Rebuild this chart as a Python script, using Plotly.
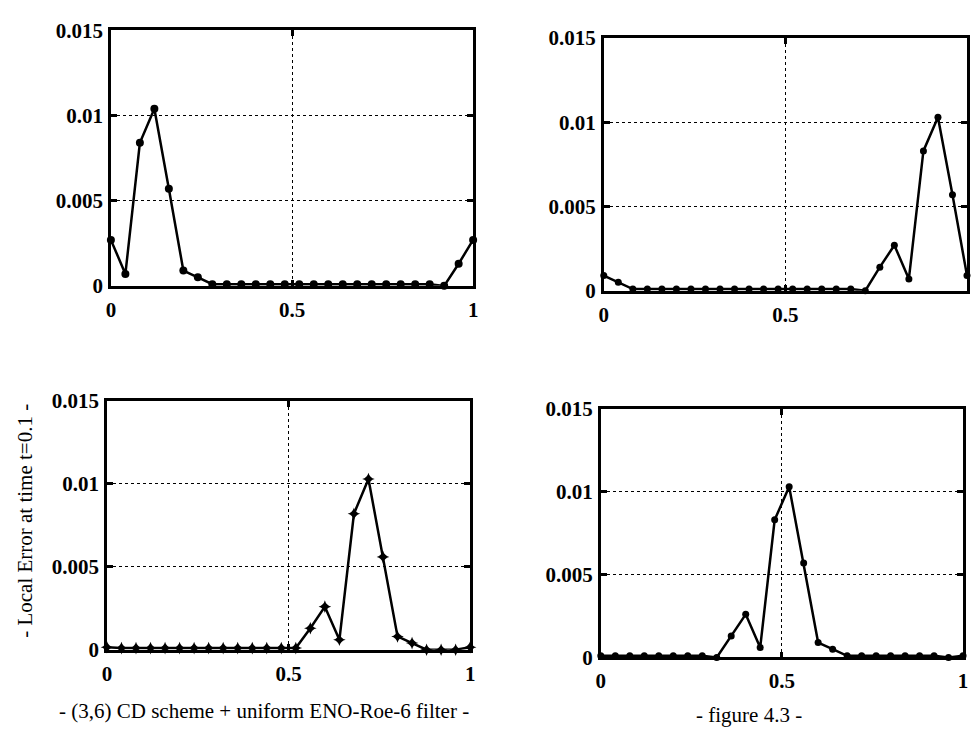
import plotly.graph_objects as go

# ---------------- data ----------------
x_grid = [round(0.04 * i, 2) for i in range(26)]

# top-left panel (peak near x=0.12)
err_tl = [0.0027, 0.0007, 0.0084, 0.0104, 0.0057, 0.0009, 0.0005, 0.0001,
          0.0001, 0.0001, 0.0001, 0.0001, 0.0001, 0.0001, 0.0001, 0.0001,
          0.0001, 0.0001, 0.0001, 0.0001, 0.0001, 0.0001, 0.0001, 0.0000,
          0.0013, 0.0027]
# top-right panel (peak near x=0.92)
err_tr = [0.0009, 0.0005, 0.0001, 0.0001, 0.0001, 0.0001, 0.0001, 0.0001,
          0.0001, 0.0001, 0.0001, 0.0001, 0.0001, 0.0001, 0.0001, 0.0001,
          0.0001, 0.0001, 0.0000, 0.0014, 0.0027, 0.0007, 0.0083, 0.0103,
          0.0057, 0.0009]
# bottom-left panel (peak near x=0.72)
err_bl = [0.00015, 0.0001, 0.0001, 0.0001, 0.0001, 0.0001, 0.0001, 0.0001,
          0.0001, 0.0001, 0.0001, 0.0001, 0.0001, 0.0001, 0.0013, 0.0026,
          0.0006, 0.0082, 0.0103, 0.0056, 0.0008, 0.0004, 0.0000, 0.0000,
          0.0000, 0.00015]
# bottom-right panel (peak near x=0.52)
err_br = [0.0001, 0.0001, 0.0001, 0.0001, 0.0001, 0.0001, 0.0001, 0.0001,
          0.0000, 0.0013, 0.0026, 0.0006, 0.0083, 0.0103, 0.0057, 0.0009,
          0.0005, 0.0001, 0.0001, 0.0001, 0.0001, 0.0001, 0.0001, 0.0001,
          0.0000, 0.0001]

x_tickvals = [0, 0.5, 1]
x_ticktext = ["0", "0.5", "1"]
y_tickvals = [0, 0.005, 0.01, 0.015]
y_ticktext = ["0", "0.005", "0.01", "0.015"]

y_title = "- Local Error at time t=0.1 -"
caption_left = "- (3,6) CD scheme + uniform ENO-Roe-6 filter -"
caption_right = "- figure 4.3 -"

# ---------------- layout ----------------
W, H = 972, 744
FONT = "Liberation Serif"

# panel boxes in page pixels: (left, right, top, bottom)
boxes = [
    (107, 473, 19, 283),
    (605, 972, 27, 288),
    (103, 470, 402, 659),
    (602, 968, 410, 667),
]
series = [err_tl, err_tr, err_bl, err_br]
symbols = ["circle", "circle", "star-diamond", "circle"]
msizes = [8, 7, 9, 7]


def px_x(v):
    return v / W


def px_y(v):
    return 1 - v / H


fig = go.Figure()
layout = dict(
    width=W, height=H,
    margin=dict(l=0, r=0, t=0, b=0),
    paper_bgcolor="white", plot_bgcolor="white",
    showlegend=False,
    font=dict(family=FONT, size=21, color="black"),
)

for i, ((l, r, t, b), ys, sym, ms) in enumerate(zip(boxes, series, symbols, msizes)):
    n = "" if i == 0 else str(i + 1)
    fig.add_trace(go.Scatter(
        x=x_grid, y=ys, mode="lines+markers",
        line=dict(color="black", width=2.5),
        marker=dict(symbol=sym, size=ms, color="black"),
        xaxis="x" + n, yaxis="y" + n, cliponaxis=False,
    ))
    common = dict(
        showline=True, linecolor="black", linewidth=2.5, mirror="ticks",
        ticks="inside", ticklen=6, tickwidth=2.5, tickcolor="black",
        showgrid=True, gridcolor="black", gridwidth=1, griddash="dot",
        zeroline=False,
        tickfont=dict(family=FONT, size=21, color="black", weight="bold"),
    )
    layout["xaxis" + n] = dict(
        domain=[px_x(l), min(px_x(r), 1.0)], anchor="y" + n, range=[0, 1],
        tickvals=x_tickvals, ticktext=x_ticktext, ticklabelstandoff=3, **common)
    layout["yaxis" + n] = dict(
        domain=[px_y(b), px_y(t)], anchor="x" + n, range=[0, 0.015],
        tickvals=y_tickvals, ticktext=y_ticktext, ticklabelstandoff=1, **common)

fig.update_layout(**layout)

fig.add_annotation(x=px_x(20), y=px_y(526), xref="paper", yref="paper",
                   xanchor="center", yanchor="middle",
                   text=y_title, textangle=-90, showarrow=False,
                   font=dict(family=FONT, size=21, color="black"))
fig.add_annotation(x=px_x(262), y=px_y(722), xref="paper", yref="paper",
                   xanchor="center", yanchor="middle",
                   text=caption_left, showarrow=False,
                   font=dict(family=FONT, size=21, color="black"))
fig.add_annotation(x=px_x(752), y=px_y(726), xref="paper", yref="paper",
                   xanchor="center", yanchor="middle",
                   text=caption_right, showarrow=False,
                   font=dict(family=FONT, size=21, color="black"))

fig.write_html("out.html", config={"displayModeBar": False},
               post_script="document.body.style.margin='0';")
